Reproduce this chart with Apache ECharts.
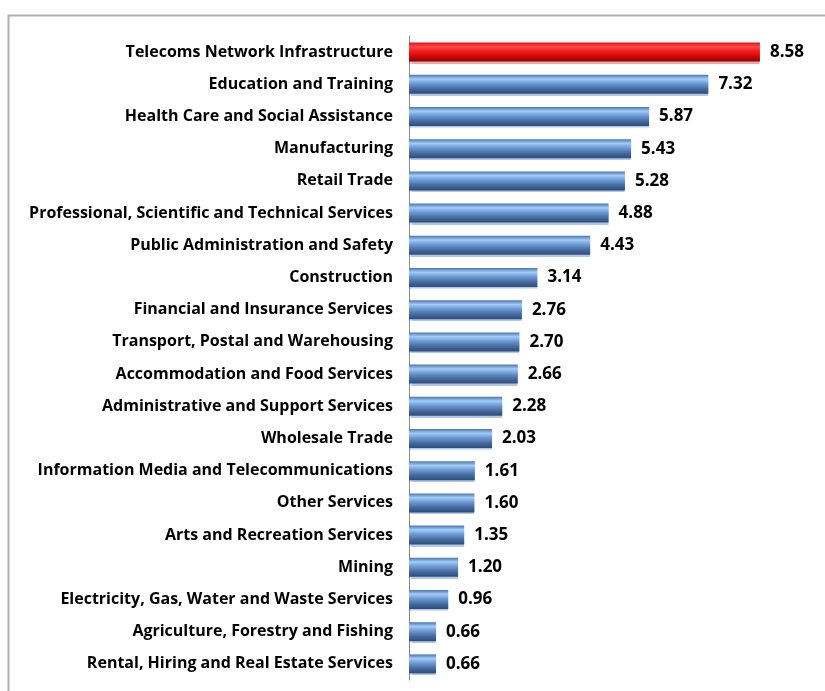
<!DOCTYPE html>
<html>
<head>
<meta charset="utf-8">
<script src="https://cdn.jsdelivr.net/npm/echarts@6/dist/echarts.min.js"></script>
<style>
  html, body { margin: 0; padding: 0; background: #fff; }
  #chart { width: 825px; height: 691px; }
</style>
</head>
<body>
<div id="chart"></div>
<script>
const industries = [
  'Telecoms Network Infrastructure',
  'Education and Training',
  'Health Care and Social Assistance',
  'Manufacturing',
  'Retail Trade',
  'Professional, Scientific and Technical Services',
  'Public Administration and Safety',
  'Construction',
  'Financial and Insurance Services',
  'Transport, Postal and Warehousing',
  'Accommodation and Food Services',
  'Administrative and Support Services',
  'Wholesale Trade',
  'Information Media and Telecommunications',
  'Other Services',
  'Arts and Recreation Services',
  'Mining',
  'Electricity, Gas, Water and Waste Services',
  'Agriculture, Forestry and Fishing',
  'Rental, Hiring and Real Estate Services'
]
const values = [8.58, 7.32, 5.87, 5.43, 5.28, 4.88, 4.43, 3.14, 2.76, 2.70, 2.66, 2.28, 2.03, 1.61, 1.60, 1.35, 1.20, 0.96, 0.66, 0.66]
const highlight = 'Telecoms Network Infrastructure'

// bevelled look: dark top edge, light highlight, darker bottom
const blueFill = new echarts.graphic.LinearGradient(0, 0, 0, 1, [
  { offset: 0, color: '#4a76b0' },
  { offset: 0.22, color: '#a3cbf6' },
  { offset: 0.45, color: '#6d9bd6' },
  { offset: 0.75, color: '#44699c' },
  { offset: 1, color: '#2c4d7a' }
])
const redFill = new echarts.graphic.LinearGradient(0, 0, 0, 1, [
  { offset: 0, color: '#e01010' },
  { offset: 0.22, color: '#ff4a4a' },
  { offset: 0.45, color: '#f41c1c' },
  { offset: 0.75, color: '#c80808' },
  { offset: 1, color: '#8c0000' }
])

const chart = echarts.init(document.getElementById('chart'))
chart.setOption({
  animation: false,
  textStyle: { fontFamily: 'Open Sans' },
  graphic: [{
    type: 'polyline',
    shape: { points: [[8.5, 700], [8.5, 15.5], [830, 15.5]] },
    style: { stroke: '#b0b0b0', lineWidth: 2, fill: null }
  }],
  grid: { left: 409, right: 7, top: 36, bottom: 11 },
  xAxis: {
    type: 'value',
    min: 0,
    max: 10,
    show: false
  },
  yAxis: {
    type: 'category',
    inverse: true,
    data: industries,
    axisLine: { lineStyle: { color: '#8c8c8c', width: 1 } },
    axisTick: { length: 5, lineStyle: { color: '#8c8c8c' } },
    axisLabel: {
      margin: 16,
      fontSize: 16,
      fontWeight: 'bold',
      color: '#000',
      fontFamily: 'Open Sans'
    }
  },
  series: [{
    type: 'bar',
    barWidth: 19,
    data: values.map((v, i) => ({
      value: v,
      itemStyle: {
        color: industries[i] === highlight ? redFill : blueFill,
        shadowColor: industries[i] === highlight ? 'rgba(160,20,20,0.35)' : 'rgba(90,130,190,0.45)',
        shadowOffsetY: 2,
        shadowBlur: 1
      }
    })),
    label: {
      show: true,
      position: 'right',
      distance: 10,
      fontSize: 17,
      fontWeight: 'bold',
      color: '#000',
      fontFamily: 'Open Sans',
      formatter: p => p.value.toFixed(2)
    }
  }]
})
</script>
</body>
</html>
